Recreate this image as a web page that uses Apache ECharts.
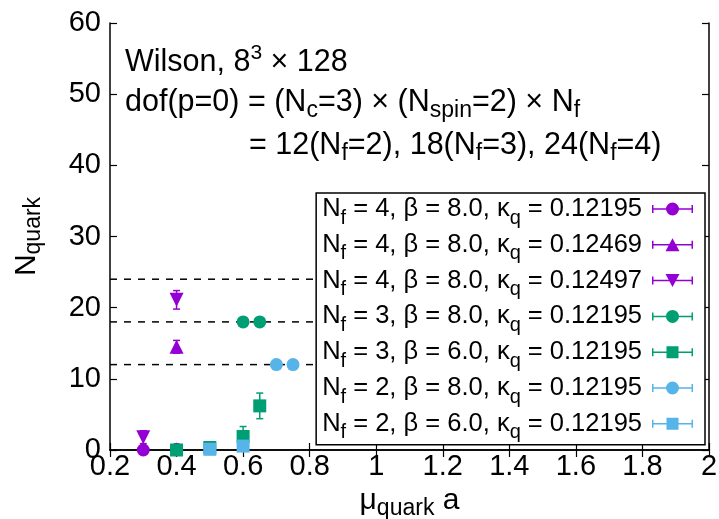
<!DOCTYPE html>
<html>
<head>
<meta charset="utf-8">
<script src="https://cdn.jsdelivr.net/npm/echarts@6/dist/echarts.min.js"></script>
<style>
  html, body { margin: 0; padding: 0; background: #ffffff; }
  #chart { width: 719px; height: 519px; }
</style>
</head>
<body>
<div id="chart"></div>
<script>
// Quark number N_quark versus quark chemical potential mu_quark a

// Axis ranges and tick spacing
const xRange = [0.2, 2.0];
const xStep = 0.2;
const yRange = [0, 60];
const yStep = 10;

// Saturation levels: dof(p=0) = 12 (Nf=2), 18 (Nf=3), 24 (Nf=4)
const dofLevels = [12, 18, 24];

// Measurements: [mu_quark a, N_quark, error]
const nf4b80k12195 = [[0.3, 0.0, 0.3], [0.4, 0.1, 0.2]];
const nf4b80k12469 = [[0.4, 14.5, 0.9]];
const nf4b80k12497 = [[0.3, 1.8, 0.9], [0.4, 21.1, 1.3]];
const nf3b80k12195 = [[0.6, 18.0, 0.1], [0.65, 18.0, 0.1]];
const nf3b60k12195 = [[0.4, 0.0, 0.2], [0.5, 0.35, 0.3], [0.6, 1.9, 1.4], [0.65, 6.2, 1.8]];
const nf2b80k12195 = [[0.7, 12.0, 0.1], [0.75, 12.0, 0.1]];
const nf2b60k12195 = [[0.5, 0.1, 0.2], [0.6, 0.55, 0.3]];

// Ensemble parameters, one entry per data set
const ensembleNf = ['4', '4', '4', '3', '3', '2', '2'];
const ensembleBeta = ['8.0', '8.0', '8.0', '8.0', '6.0', '8.0', '6.0'];
const ensembleKappa = ['0.12195', '0.12469', '0.12497', '0.12195', '0.12195', '0.12195', '0.12195'];

const ensembleData = [nf4b80k12195, nf4b80k12469, nf4b80k12497, nf3b80k12195, nf3b60k12195, nf2b80k12195, nf2b60k12195];

// Drawing styles
const FONT = "'Liberation Sans', Arial, Helvetica, sans-serif";
const PURPLE = '#9400d3', GREEN = '#009e73', BLUE = '#56b4e9';
const setColors = [PURPLE, PURPLE, PURPLE, GREEN, GREEN, BLUE, BLUE];
const setMarkers = ['circle', 'up', 'down', 'circle', 'square', 'circle', 'square'];

const symbolOf = {
  circle: { symbol: 'circle', size: 13, rotate: 0 },
  up: { symbol: 'triangle', size: 14, rotate: 0 },
  down: { symbol: 'triangle', size: 14, rotate: 180 },
  square: { symbol: 'rect', size: 13, rotate: 0 }
};

// Legend keys: horizontal error bar with end caps and the marker in the middle
const barPart = 'M0,5.75 L41,5.75 L41,7.25 L0,7.25 Z M0,2.5 L1.5,2.5 L1.5,10.5 L0,10.5 Z M39.5,2.5 L41,2.5 L41,10.5 L39.5,10.5 Z';
const markerPart = {
  circle: 'M14,6.5 A6.5,6.5 0 1,1 27,6.5 A6.5,6.5 0 1,1 14,6.5 Z',
  up: 'M20.5,0 L27.5,13 L13.5,13 Z',
  down: 'M13.5,0 L27.5,0 L20.5,13 Z',
  square: 'M14.5,0.5 L26.5,0.5 L26.5,12.5 L14.5,12.5 Z'
};
const keyIcon = m => 'path://' + barPart + ' ' + markerPart[m];

// Rich-text helpers: equal and opposite padding shifts a token up or down
const subStyle = (size, drop) => ({ fontSize: size, fontFamily: FONT, color: '#000', padding: [drop, 0, -drop, 0] });
const supStyle = (size, rise) => ({ fontSize: size, fontFamily: FONT, color: '#000', padding: [-rise, 0, rise, 0] });

const names = ensembleNf.map((nf, i) => 'Nf = ' + nf + ', β = ' + ensembleBeta[i] + ', κq = ' + ensembleKappa[i]);
const richNames = {};
ensembleNf.forEach((nf, i) => {
  richNames[names[i]] = 'N{sub|f} = ' + nf + ', β = ' + ensembleBeta[i] + ', κ{sub|q} = ' + ensembleKappa[i];
});

function errorBars(color) {
  return function (params, api) {
    const x = api.value(0), y = api.value(1), e = api.value(2);
    const hi = api.coord([x, y + e]);
    const lo = api.coord([x, y - e]);
    const cap = 3.5;
    const style = { stroke: color, lineWidth: 1.5, fill: null };
    return {
      type: 'group',
      children: [
        { type: 'line', shape: { x1: hi[0], y1: hi[1], x2: lo[0], y2: lo[1] }, style: style },
        { type: 'line', shape: { x1: hi[0] - cap, y1: hi[1], x2: hi[0] + cap, y2: hi[1] }, style: style },
        { type: 'line', shape: { x1: lo[0] - cap, y1: lo[1], x2: lo[0] + cap, y2: lo[1] }, style: style }
      ]
    };
  };
}

const series = [];

// Dashed guide lines at the saturation values
dofLevels.forEach(level => {
  series.push({
    type: 'line',
    name: 'dof ' + level,
    data: [[xRange[0], level], [xRange[1], level]],
    showSymbol: false,
    silent: true,
    lineStyle: { color: '#000', width: 1.5, type: [7, 7] },
    z: 1,
    animation: false
  });
});

ensembleData.forEach((set, i) => {
  const color = setColors[i];
  const mk = symbolOf[setMarkers[i]];
  series.push({
    type: 'custom',
    name: names[i],
    data: set,
    dimensions: ['x', 'y', 'err'],
    encode: { x: 0, y: 1 },
    renderItem: errorBars(color),
    itemStyle: { color: color },
    clip: true,
    silent: true,
    animation: false
  });
  series.push({
    type: 'scatter',
    name: names[i],
    data: set.map(p => [p[0], p[1]]),
    symbol: mk.symbol,
    symbolSize: mk.size,
    symbolRotate: mk.rotate,
    itemStyle: { color: color, opacity: 1 },
    clip: false,
    silent: true,
    animation: false
  });
});

const axisLineStyle = { lineStyle: { color: '#000', width: 1.5 } };
const tickStyle = { show: true, inside: true, length: 7, lineStyle: { color: '#000', width: 1.2 } };

const option = {
  backgroundColor: '#ffffff',
  animation: false,
  grid: { left: 110, right: 10, top: 23, bottom: 69, containLabel: false, outerBoundsMode: 'none' },
  xAxis: [
    {
      type: 'value', min: xRange[0], max: xRange[1], interval: xStep,
      position: 'bottom',
      name: 'μ{sub|quark} a',
      nameLocation: 'middle', nameGap: 32,
      nameTextStyle: { fontSize: 30, fontFamily: FONT, color: '#000', lineHeight: 30, rich: { sub: subStyle(23, 8) } },
      axisLine: axisLineStyle, axisTick: tickStyle,
      axisLabel: { fontSize: 29, fontFamily: FONT, color: '#000', margin: 2 },
      splitLine: { show: false }
    },
    {
      type: 'value', min: xRange[0], max: xRange[1], interval: xStep,
      position: 'top',
      axisLine: axisLineStyle, axisTick: tickStyle,
      axisLabel: { show: false }, splitLine: { show: false }
    }
  ],
  yAxis: [
    {
      type: 'value', min: yRange[0], max: yRange[1], interval: yStep,
      position: 'left',
      name: 'N{sub|quark}',
      nameLocation: 'middle', nameGap: 68,
      nameTextStyle: { fontSize: 30, fontFamily: FONT, color: '#000', lineHeight: 30, rich: { sub: subStyle(23, 7) } },
      axisLine: axisLineStyle, axisTick: tickStyle,
      axisLabel: { fontSize: 29, fontFamily: FONT, color: '#000', margin: 9 },
      splitLine: { show: false }
    },
    {
      type: 'value', min: yRange[0], max: yRange[1], interval: yStep,
      position: 'right',
      axisLine: axisLineStyle, axisTick: tickStyle,
      axisLabel: { show: false }, splitLine: { show: false }
    }
  ],
  legend: {
    orient: 'vertical',
    right: 14,
    top: 193,
    align: 'right',
    itemWidth: 41,
    itemHeight: 13,
    itemGap: 1.8,
    padding: [1, 12, 2, 6],
    backgroundColor: '#ffffff',
    borderColor: '#000',
    borderWidth: 1.5,
    borderRadius: 0,
    selectedMode: false,
    textStyle: {
      fontSize: 25.5, fontFamily: FONT, color: '#000', lineHeight: 30,
      padding: [0, 5, 0, 0],
      rich: { sub: subStyle(20, 9) }
    },
    formatter: name => richNames[name],
    data: names.map((n, i) => ({ name: n, icon: keyIcon(setMarkers[i]) }))
  },
  graphic: [
    {
      type: 'text', x: 125, y: 63, silent: true,
      style: {
        text: 'Wilson, 8{sup|3} × 128',
        font: '30.5px ' + FONT, fill: '#000', verticalAlign: 'middle',
        rich: { sup: supStyle(21, 10) }
      }
    },
    {
      type: 'text', x: 125, y: 103, silent: true,
      style: {
        text: 'dof(p=0) = (N{sub|c}=3) × (N{sub|spin}=2) × N{sub|f}',
        font: '30.5px ' + FONT, fill: '#000', verticalAlign: 'middle',
        rich: { sub: subStyle(23, 8) }
      }
    },
    {
      type: 'text', x: 249, y: 146, silent: true,
      style: {
        text: '= 12(N{sub|f}=2), 18(N{sub|f}=3), 24(N{sub|f}=4)',
        font: '30.5px ' + FONT, fill: '#000', verticalAlign: 'middle',
        rich: { sub: subStyle(23, 8) }
      }
    }
  ],
  series: series
};

const chart = echarts.init(document.getElementById('chart'), null, { renderer: 'canvas' });
chart.setOption(option);
</script>
</body>
</html>
